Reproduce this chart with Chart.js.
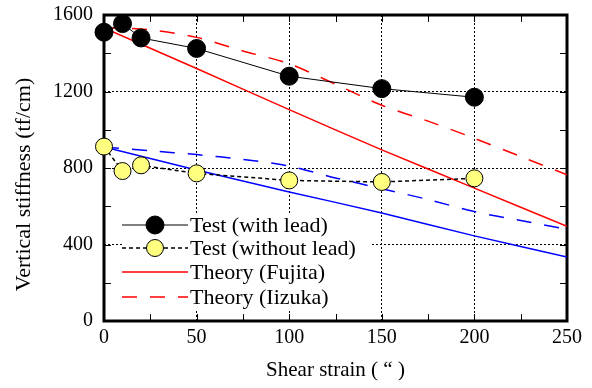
<!DOCTYPE html>
<html>
<head>
<meta charset="utf-8">
<script src="https://cdn.jsdelivr.net/npm/chart.js@4.4.1/dist/chart.umd.min.js"></script>
<style>body{margin:0;background:#fff}</style>
</head>
<body>
<canvas id="c" width="592" height="388"></canvas>
<script>
// measured points
const testStrain = [0, 10, 20, 50, 100, 150, 200];
const withLead = [1510, 1555, 1480, 1425, 1280, 1215, 1170];
const withoutLead = [912, 784, 814, 772, 735, 727, 746];

// theory curves
const fujitaStrain = [0, 50, 100, 150, 200, 250];
const fujitaLead = [1532, 1320, 1105, 895, 695, 495];
const fujitaNoLead = [910, 790, 675, 565, 445, 335];
const iizukaStrain = [0, 25, 50, 75, 100, 125, 150, 175, 200, 225, 250];
const iizukaLead = [1535, 1522, 1483, 1412, 1345, 1238, 1128, 1045, 955, 860, 765];
const iizukaNoLead = [910, 890, 870, 845, 810, 748, 692, 635, 572, 525, 480];

const legendLabels = ['Test (with lead)', 'Test (without lead)', 'Theory (Fujita)', 'Theory (Iizuka)'];

const FONT = "'Liberation Serif', 'Times New Roman', serif";
const RED = 'rgb(255,0,0)';
const BLUE = 'rgb(0,0,255)';
const YELLOW = 'rgb(255,255,128)';

Chart.defaults.font.family = FONT;
Chart.defaults.font.size = 20;
Chart.defaults.color = '#000';

const pts = (xs, ys) => xs.map((x, i) => ({x: x, y: ys[i]}));

// frame + inward tick marks
const frame = {
    id: 'frame',
    beforeDatasetsDraw(chart) {
        const {ctx, chartArea: a, scales: {x, y}} = chart;
        ctx.save();
        ctx.strokeStyle = '#000';
        ctx.lineWidth = 1;
        ctx.setLineDash([]);
        ctx.beginPath();
        x.ticks.forEach(t => {
            const px = Math.round(x.getPixelForValue(t.value)) + 0.5;
            ctx.moveTo(px, a.bottom); ctx.lineTo(px, a.bottom - 7);
            ctx.moveTo(px, a.top); ctx.lineTo(px, a.top + 7);
        });
        y.ticks.forEach(t => {
            const py = Math.round(y.getPixelForValue(t.value)) + 0.5;
            ctx.moveTo(a.left, py); ctx.lineTo(a.left + 7, py);
            ctx.moveTo(a.right, py); ctx.lineTo(a.right - 7, py);
        });
        ctx.stroke();
        ctx.lineWidth = 3;
        ctx.strokeRect(a.left, a.top, a.right - a.left, a.bottom - a.top);
        ctx.restore();
    }
};

// legend drawn inside the plot
const insideLegend = {
    id: 'insideLegend',
    afterDraw(chart) {
        const {ctx, chartArea: a} = chart;
        const x0 = a.left + 18, x1 = a.left + 84, tx = a.left + 86;
        const rows = [a.top + 210, a.top + 233, a.top + 257, a.top + 282];
        ctx.save();
        ctx.font = '22px ' + FONT;
        ctx.fillStyle = '#fff';
        ctx.fillRect(x0, rows[0] - 12, 250, rows[3] - rows[0] + 24);
        const sets = [0, 1, 2, 3].map(i => chart.data.datasets[i]);
        sets.forEach((ds, i) => {
            const yy = rows[i];
            ctx.strokeStyle = ds.borderColor;
            ctx.lineWidth = ds.borderWidth;
            ctx.setLineDash(ds.borderDash || []);
            ctx.beginPath();
            ctx.moveTo(x0, yy); ctx.lineTo(x1, yy);
            ctx.stroke();
            ctx.setLineDash([]);
            if (ds.pointRadius > 0) {
                ctx.beginPath();
                ctx.arc((x0 + x1) / 2, yy, ds.pointRadius, 0, Math.PI * 2);
                ctx.fillStyle = ds.pointBackgroundColor;
                ctx.fill();
                ctx.lineWidth = 1;
                ctx.strokeStyle = '#000';
                ctx.stroke();
            }
            ctx.fillStyle = '#000';
            ctx.textBaseline = 'middle';
            ctx.fillText(legendLabels[i], tx, yy + 1);
        });
        ctx.restore();
    }
};

new Chart(document.getElementById('c'), {
    type: 'line',
    data: {
        datasets: [
            {
                data: pts(testStrain, withLead),
                borderColor: '#000', borderWidth: 1,
                pointRadius: 9, pointBackgroundColor: '#000', pointBorderColor: '#000', pointBorderWidth: 1,
                clip: false, order: 0
            },
            {
                data: pts(testStrain, withoutLead),
                borderColor: '#000', borderWidth: 1.5, borderDash: [4, 3],
                pointRadius: 8.5, pointBackgroundColor: YELLOW, pointBorderColor: '#000', pointBorderWidth: 1,
                clip: false, order: 1
            },
            {
                data: pts(fujitaStrain, fujitaLead),
                borderColor: RED, borderWidth: 1.5, pointRadius: 0, tension: 0.3, order: 3
            },
            {
                data: pts(iizukaStrain, iizukaLead),
                borderColor: RED, borderWidth: 1.5, borderDash: [15, 13], pointRadius: 0, tension: 0.3, order: 3
            },
            {
                data: pts(fujitaStrain, fujitaNoLead),
                borderColor: BLUE, borderWidth: 1.5, pointRadius: 0, tension: 0.3, order: 3
            },
            {
                data: pts(iizukaStrain, iizukaNoLead),
                borderColor: BLUE, borderWidth: 1.5, borderDash: [15, 13], pointRadius: 0, tension: 0.3, order: 3
            }
        ]
    },
    options: {
        responsive: false,
        animation: false,
        layout: {padding: {left: 0, top: 15, right: 25, bottom: 0}},
        plugins: {legend: {display: false}, tooltip: {enabled: false}},
        scales: {
            x: {
                type: 'linear', min: 0, max: 250,
                afterFit(s) { s.height = 67; },
                ticks: {stepSize: 25, padding: 5, callback: v => v % 50 === 0 ? v : ''},
                grid: {
                    drawTicks: false, lineWidth: 1,
                    color: c => (c.tick.value % 50 === 0 && c.tick.value > 0 && c.tick.value < 250) ? '#000' : 'transparent'
                },
                border: {display: false, dash: [2, 2]},
                title: {display: true, text: 'Shear strain ( \u201c )', font: {size: 21}, padding: {top: 0, bottom: 5}}
            },
            y: {
                min: 0, max: 1600,
                afterFit(s) { s.width = 104; s.paddingTop = 0; s.paddingBottom = 0; },
                ticks: {stepSize: 200, padding: 11, callback: v => v % 400 === 0 ? v : ''},
                grid: {
                    drawTicks: false, lineWidth: 1,
                    color: c => (c.tick.value % 400 === 0 && c.tick.value > 0 && c.tick.value < 1600) ? '#000' : 'transparent'
                },
                border: {display: false, dash: [2, 2]},
                title: {display: true, text: 'Vertical stiffness (tf/cm)      ', font: {size: 22}, padding: {top: 11, bottom: 0}}
            }
        }
    },
    plugins: [frame, insideLegend]
});
</script>
</body>
</html>
